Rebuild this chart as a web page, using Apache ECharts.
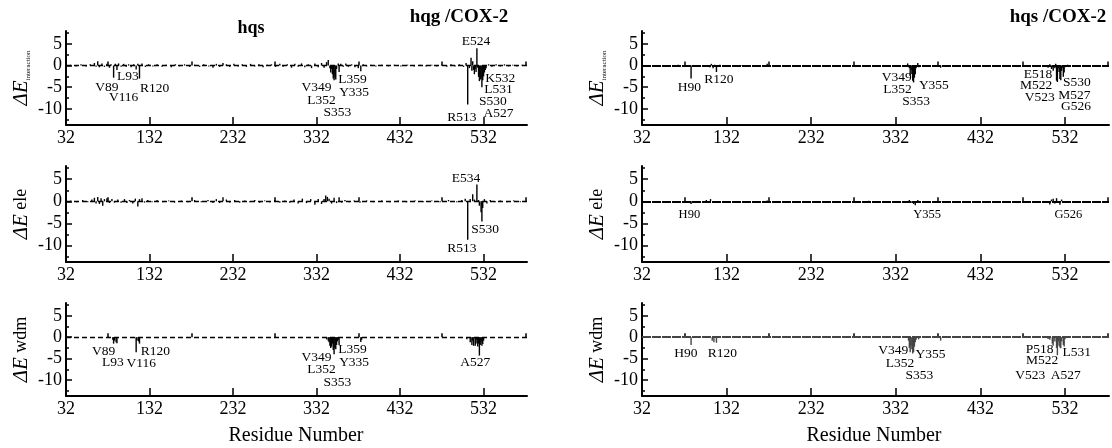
<!DOCTYPE html>
<html><head><meta charset="utf-8">
<script src="https://cdn.jsdelivr.net/npm/echarts@6/dist/echarts.min.js"></script>
<style>html,body{margin:0;padding:0;background:#fff}#c{width:1112px;height:448px}</style>
</head><body><div id="c"></div>
<script>
// ---- axis ticks / labels ----
const xLabels = [32, 132, 232, 332, 432, 532];
const xMajorTicks = [132, 232, 332, 432, 532];
const xMinorTicks = [82, 182, 282, 382, 482, 582];
const yLabels = [-10, -5, 0, 5];
const yMajorTicks = [-10, -5, 0, 5];
const yMinorTicks = [-12.5, -7.5, -2.5, 2.5, 7.5];

// ---- residue energies [residue, value] ----
const hqgTotal = [[38,0.2],[44,-0.2],[50,0.3],[56,-0.2],[61,0.3],[66,0.6],[68,-0.3],[70,1.0],[72,-0.4],[75,0.5],[78,-0.3],[81,0.4],[84,-0.5],[86,0.3],[89,-2.8],[91,0.4],[93,-1.0],[95,0.5],[98,-0.3],[101,0.4],[104,-0.3],[107,0.3],[110,-0.4],[113,0.3],[116,-0.9],[118,0.4],[120,-3.0],[123,0.5],[127,-0.3],[131,0.3],[136,-0.2],[141,0.3],[147,-0.3],[152,0.2],[158,-0.4],[163,0.3],[168,-0.2],[174,0.3],[180,-0.3],[186,0.2],[192,-0.3],[197,0.3],[203,-0.2],[208,-0.5],[212,0.4],[216,-0.3],[220,0.6],[224,0.3],[228,-0.3],[233,0.4],[238,-0.2],[243,0.3],[248,-0.3],[253,0.4],[258,-0.2],[263,0.3],[268,-0.4],[273,0.2],[278,0.3],[283,-0.3],[288,0.4],[292,-0.3],[297,0.3],[302,-0.5],[306,0.4],[310,-0.3],[314,0.5],[318,-0.4],[322,0.3],[326,-0.6],[330,0.5],[334,-0.4],[338,0.6],[341,-0.5],[344,0.8],[346,1.3],[348,-0.6],[349,-1.6],[350,-0.8],[351,-2.0],[352,-3.0],[353,-3.4],[354,-2.6],[355,-3.2],[356,-0.8],[358,0.5],[359,-1.5],[361,0.4],[364,-0.3],[367,0.5],[370,-0.3],[374,0.3],[378,-0.4],[382,-0.6],[385,-1.3],[388,0.3],[392,-0.2],[397,0.2],[403,-0.2],[410,0.2],[418,-0.2],[425,0.2],[433,-0.2],[441,0.2],[449,-0.2],[456,0.2],[463,-0.2],[470,0.2],[476,-0.2],[482,0.2],[488,-0.3],[493,0.3],[498,-0.2],[503,0.3],[508,-0.3],[511,0.6],[513,-9.0],[515,-0.6],[517,1.8],[518,-1.2],[519,1.0],[520,-1.0],[521,-2.0],[522,-0.8],[523,-1.5],[524,4.0],[525,-0.5],[526,-2.6],[527,-3.6],[528,-3.2],[529,-3.0],[530,-5.0],[531,-3.4],[532,-2.5],[533,-1.6],[534,-1.0],[535,-0.6],[538,0.3],[542,-0.3],[547,0.3],[552,-0.2],[557,0.3],[562,-0.2],[567,0.2],[572,-0.2],[578,0.2]];
const hqgEle = [[38,0.2],[45,-0.2],[52,0.3],[58,-0.2],[63,0.4],[66,0.8],[68,-0.5],[70,1.0],[72,-0.6],[74,0.7],[76,-1.0],[78,0.5],[81,0.7],[84,-0.4],[87,0.5],[90,-0.3],[94,0.4],[98,-0.3],[102,0.5],[105,-0.4],[108,0.3],[112,-0.5],[115,0.6],[118,-1.2],[120,0.5],[123,0.7],[126,-0.3],[130,0.3],[135,-0.2],[141,0.3],[148,-0.2],[155,0.2],[162,-0.3],[170,0.2],[178,-0.2],[186,0.3],[194,-0.2],[202,0.3],[208,-0.4],[212,0.5],[216,-0.4],[220,0.9],[224,0.4],[228,-0.3],[234,0.3],[240,-0.3],[246,0.2],[252,-0.2],[258,0.3],[264,-0.3],[270,0.2],[276,-0.2],[282,0.3],[288,-0.3],[294,0.2],[300,-0.3],[305,0.4],[310,-0.5],[315,0.6],[320,-0.4],[325,0.5],[330,-0.8],[334,0.5],[338,-0.6],[341,0.5],[343,1.3],[345,1.0],[347,0.6],[350,-0.5],[353,0.8],[356,-0.4],[359,0.9],[362,-0.3],[366,0.3],[371,-0.2],[377,0.2],[384,-0.3],[392,0.2],[400,-0.2],[410,0.2],[420,-0.2],[430,0.2],[440,-0.2],[450,0.2],[460,-0.2],[470,0.2],[480,-0.2],[490,0.3],[500,-0.2],[506,0.3],[510,0.6],[513,-8.7],[516,0.5],[519,1.6],[521,0.4],[524,3.8],[526,0.3],[527,-1.0],[529,-2.5],[530,-4.6],[531,-1.5],[533,0.5],[536,-0.5],[540,0.3],[546,-0.2],[552,0.2],[560,-0.2],[568,0.2],[576,-0.2]];
const hqgVdw = [[88,-0.6],[89,-1.5],[90,-0.8],[92,-1.2],[93,-1.4],[116,-3.5],[117,-0.8],[119,-1.0],[120,-1.5],[344,-0.5],[346,-0.8],[347,-1.2],[348,-2.0],[349,-2.5],[350,-2.2],[351,-1.5],[352,-3.0],[353,-4.0],[354,-2.5],[355,-2.8],[356,-1.8],[357,-1.0],[358,-0.6],[359,-1.8],[385,-1.1],[386,-0.6],[512,-0.5],[516,-1.2],[518,-1.8],[519,-0.8],[520,-2.0],[522,-2.0],[523,-1.5],[524,-0.6],[525,-2.2],[526,-1.5],[527,-4.3],[528,-1.8],[529,-1.0],[530,-2.0],[531,-1.6],[532,-0.8]];
const hqsTotal = [[62,0.1],[75,0.2],[84,-0.2],[90,-3.0],[95,0.1],[112,-0.4],[114,0.4],[116,-0.6],[118,0.2],[120,-1.5],[124,0.2],[150,-0.1],[180,0.4],[215,0.1],[250,-0.1],[300,0.1],[344,-0.3],[346,0.5],[348,-0.6],[349,-2.4],[350,-1.0],[351,-2.0],[352,-3.5],[353,-3.9],[354,-2.8],[355,-2.0],[356,-0.6],[358,0.6],[359,-0.4],[385,-0.5],[420,0.1],[460,-0.1],[510,-0.3],[512,-0.5],[514,0.3],[516,-0.8],[517,-0.4],[518,-1.2],[520,-0.6],[521,0.4],[522,-3.5],[523,-3.8],[524,-0.6],[525,-1.5],[526,-3.1],[527,-3.4],[528,-1.2],[529,-0.5],[530,-2.6],[531,-1.6],[532,-0.4],[535,0.2]];
const hqsEle = [[90,-0.6],[108,0.3],[110,-0.4],[113,0.5],[116,-0.3],[180,0.2],[300,0.1],[345,-0.3],[348,0.3],[350,-0.4],[353,-0.6],[355,-0.9],[358,0.3],[385,-0.2],[440,-0.1],[512,-0.3],[514,-0.7],[516,0.4],[518,0.6],[520,-0.5],[522,0.7],[524,-0.4],[526,-0.8],[528,0.4],[530,-0.3]];
const hqsVdw = [[90,-1.8],[115,-0.8],[117,-1.2],[120,-1.3],[347,-0.8],[348,-2.5],[349,-3.5],[350,-2.0],[351,-2.8],[352,-3.8],[353,-3.5],[354,-2.2],[355,-1.2],[356,-0.6],[359,-0.5],[385,-0.8],[512,-0.4],[514,-0.6],[517,-1.5],[518,-2.0],[520,-1.0],[522,-2.5],[523,-4.2],[524,-1.0],[525,-2.0],[526,-2.4],[527,-2.6],[528,-1.0],[530,-1.8],[531,-2.2],[532,-0.5]];

// ---- residue annotations [text, residue, energy] ----
const hqgTotalLabels = [['V89',81,-5.0],['L93',106,-2.5],['V116',101,-7.3],['R120',138,-5.2],['V349',332,-5.0],['L352',338,-8.0],['S353',357,-10.9],['L359',375,-3.1],['Y335',377,-6.2],['E524',523,5.5],['K532',552,-2.9],['L531',550,-5.6],['S530',543,-8.2],['A527',550,-11.1],['R513',506,-12.0]];
const hqgEleLabels = [['E534',511,5.2],['S530',534,-6.3],['R513',506,-10.6]];
const hqgVdwLabels = [['V89',77,-3.3],['L93',88,-6.0],['V116',122,-6.2],['R120',139,-3.3],['V349',332,-4.7],['L352',338,-7.5],['S353',357,-10.5],['L359',375,-2.9],['Y335',377,-5.8],['A527',522,-5.8]];
const hqsTotalLabels = [['H90',88,-5.0],['R120',123,-3.2],['V349',333,-2.8],['L352',334,-5.6],['S353',356,-8.2],['Y355',377,-4.6],['E518',500,-2.1],['M522',498,-4.6],['V523',502,-7.3],['S530',546,-3.8],['M527',543,-6.8],['G526',545,-9.5]];
const hqsEleLabels = [['H90',88,-3.1],['Y355',369,-3.1],['G526',536,-3.1]];
const hqsVdwLabels = [['H90',84,-3.7],['R120',127,-3.7],['V349',329,-3.1],['Y355',373,-4.0],['L352',337,-6.1],['S353',360,-9.0],['P518',502,-2.8],['M522',505,-5.4],['V523',491,-9.0],['A527',533,-9.0],['L531',546,-3.5]];

const FONT = 'Liberation Serif';
const cols = [{left: 66, right: 585}, {left: 642, right: 3}];
const rows = [{top: 31, height: 94}, {top: 166, height: 96}, {top: 303, height: 93}];
const names = ['{e|ΔE}{s|interaction}', '{e|ΔE}{t| ele}', '{e|ΔE}{t| wdm}'];

const panels = [
  {col:0,row:0,data:hqgTotal,labels:hqgTotalLabels,color:'#000',lf:13.5},
  {col:0,row:1,data:hqgEle,labels:hqgEleLabels,color:'#000',lf:13.5},
  {col:0,row:2,data:hqgVdw,labels:hqgVdwLabels,color:'#000',lf:13.5},
  {col:1,row:0,data:hqsTotal,labels:hqsTotalLabels,color:'#000',lf:13.5},
  {col:1,row:1,data:hqsEle,labels:hqsEleLabels,color:'#000',lf:12.5},
  {col:1,row:2,data:hqsVdw,labels:hqsVdwLabels,color:'#444',lf:13.5}
];

const grid = [], xAxis = [], yAxis = [], series = [];
const axisLine = {show: true, onZero: false, lineStyle: {color: '#000', width: 2}};
panels.forEach((p, i) => {
  grid.push({left: cols[p.col].left, right: cols[p.col].right, top: rows[p.row].top, height: rows[p.row].height, containLabel: false, outerBoundsMode: 'none'});
  xAxis.push({type: 'value', gridIndex: i, position: 'bottom', min: 32, max: 584, splitLine: {show: false}, axisLine,
    axisTick: {show: true, inside: true, length: 8, customValues: xMajorTicks, lineStyle: {color: '#000', width: 1.5}},
    axisLabel: {customValues: xLabels, color: '#000', fontFamily: FONT, fontSize: 18, margin: 4}});
  xAxis.push({type: 'value', gridIndex: i, position: 'bottom', min: 32, max: 584, splitLine: {show: false}, axisLine: {show: false},
    axisTick: {show: true, inside: true, length: 4, customValues: xMinorTicks, lineStyle: {color: '#000', width: 1.5}},
    axisLabel: {show: false}});
  yAxis.push({type: 'value', gridIndex: i, position: 'left', min: -13.75, max: 8, splitLine: {show: false}, axisLine,
    axisTick: {show: true, inside: true, length: 6, customValues: yMajorTicks, lineStyle: {color: '#000', width: 1.5}},
    axisLabel: {customValues: yLabels, color: '#000', fontFamily: FONT, fontSize: 18, margin: 4},
    name: names[p.row], nameLocation: 'middle', nameRotate: 90, nameGap: 34,
    nameTextStyle: {color: '#000', fontFamily: FONT, rich: {
      e: {fontFamily: FONT, fontStyle: 'italic', fontSize: 21, color: '#000'},
      s: {fontFamily: FONT, fontSize: 7, color: '#000', verticalAlign: 'bottom'},
      t: {fontFamily: FONT, fontSize: 18, color: '#000'}}}});
  yAxis.push({type: 'value', gridIndex: i, position: 'left', min: -13.75, max: 8, splitLine: {show: false}, axisLine: {show: false},
    axisTick: {show: true, inside: true, length: 3, customValues: yMinorTicks, lineStyle: {color: '#000', width: 1.5}},
    axisLabel: {show: false}});
  series.push({type: 'bar', xAxisIndex: 2*i, yAxisIndex: 2*i, data: p.data, barWidth: 1.4,
    itemStyle: {color: p.color}, silent: true,
    markLine: {silent: true, symbol: 'none', label: {show: false}, animation: false,
      lineStyle: {color: p.color, width: p.col === 0 ? 1.3 : 1.8, type: p.col === 0 ? [5, 3] : [9, 1]},
      data: [{yAxis: 0}]}});
  series.push({type: 'scatter', xAxisIndex: 2*i, yAxisIndex: 2*i, data: p.labels.map(l => [l[1], l[2], l[0]]),
    symbolSize: 1, itemStyle: {color: 'rgba(0,0,0,0)'}, clip: false, silent: true, z: 5,
    label: {show: true, position: 'inside', formatter: pr => pr.data[2], color: '#000', opacity: 1, textBorderWidth: 0, fontFamily: FONT, fontSize: p.lf}});
});

const txt = (x, y, text, font) => ({type: 'text', x, y, style: {text, fill: '#000', font, align: 'center', verticalAlign: 'middle'}});
const graphic = [
  txt(251, 28, 'hqs', 'bold 18px "Liberation Serif"'),
  txt(459, 17, 'hqg /COX-2', 'bold 19px "Liberation Serif"'),
  txt(1058, 17, 'hqs /COX-2', 'bold 19px "Liberation Serif"'),
  txt(296, 436, 'Residue Number', '20px "Liberation Serif"'),
  txt(874, 436, 'Residue Number', '20px "Liberation Serif"')
];

const chart = echarts.init(document.getElementById('c'), null, {renderer: 'canvas'});
chart.setOption({animation: false, backgroundColor: '#fff', grid, xAxis, yAxis, series, graphic});
</script></body></html>
